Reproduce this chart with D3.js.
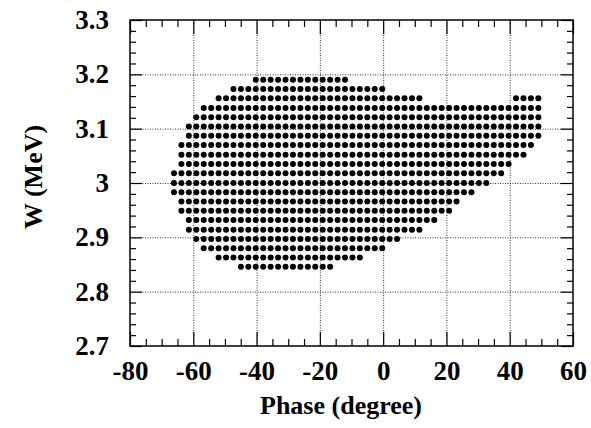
<!DOCTYPE html>
<html>
<head>
<meta charset="utf-8">
<script src="https://cdn.jsdelivr.net/npm/d3@7"></script>
<style>
  body { margin: 0; background: #fff; }
  svg { display: block; }
  text { font-family: "Liberation Serif", "Times New Roman", serif; font-weight: bold; fill: #000; }
</style>
</head>
<body>
<svg id="chart" width="591" height="428"></svg>
<script>
// Axis ticks
const phaseTicks = [-80, -60, -40, -20, 0, 20, 40, 60];
const phaseTickLabels = ["-80", "-60", "-40", "-20", "0", "20", "40", "60"];
const phaseMinorTicks = [-75, -70, -65, -55, -50, -45, -35, -30, -25, -15, -10, -5,
                         5, 10, 15, 25, 30, 35, 45, 50, 55];
const wTicks = [2.7, 2.8, 2.9, 3.0, 3.1, 3.2, 3.3];
const wTickLabels = ["2.7", "2.8", "2.9", "3", "3.1", "3.2", "3.3"];
const wMinorTicks = [2.72, 2.74, 2.76, 2.78, 2.82, 2.84, 2.86, 2.88, 2.92, 2.94, 2.96, 2.98,
                     3.02, 3.04, 3.06, 3.08, 3.12, 3.14, 3.16, 3.18, 3.22, 3.24, 3.26, 3.28];

// Scan grid: phase columns (degree) and energy rows (MeV)
const phaseColumns = [-66.1, -63.75, -61.4, -59.05, -56.7, -54.35, -52.0, -49.65, -47.3, -44.95,
                      -42.6, -40.25, -37.9, -35.55, -33.2, -30.85, -28.5, -26.15, -23.8, -21.45,
                      -19.1, -16.75, -14.4, -12.05, -9.7, -7.35, -5.0, -2.65, -0.3, 2.05,
                      4.4, 6.75, 9.1, 11.45, 13.8, 16.15, 18.5, 20.85, 23.2, 25.55,
                      27.9, 30.25, 32.6, 34.95, 37.3, 39.65, 42.0, 44.35, 46.7, 49.05];
const wLevels = [3.190, 3.173, 3.156, 3.138, 3.121, 3.104, 3.087, 3.070, 3.052, 3.035, 3.018,
                 3.000, 2.983, 2.966, 2.949, 2.932, 2.914, 2.897, 2.880, 2.863, 2.846];
// Accepted column ranges [first, last] on each energy row
const rowSpans = [
  [[11, 23]],
  [[8, 28]],
  [[6, 33], [46, 49]],
  [[4, 49]],
  [[3, 49]],
  [[2, 49]],
  [[2, 49]],
  [[1, 48]],
  [[1, 47]],
  [[1, 45]],
  [[0, 44]],
  [[0, 42]],
  [[0, 40]],
  [[1, 38]],
  [[1, 37]],
  [[2, 35]],
  [[2, 33]],
  [[3, 30]],
  [[4, 28]],
  [[6, 25]],
  [[9, 21]]
];

const svg = d3.select("#chart");
const W = 591, H = 428;
const margin = { left: 130, right: 18, top: 20, bottom: 82 };
const width = W - margin.left - margin.right;
const height = H - margin.top - margin.bottom;

const x = d3.scaleLinear().domain([-80, 60]).range([0, width]);
const y = d3.scaleLinear().domain([2.7, 3.3]).range([height, 0]);

const g = svg.append("g").attr("transform", `translate(${margin.left},${margin.top})`);

// Dotted grid
const gridX = g.append("g").attr("transform", `translate(0,${height})`)
  .call(d3.axisBottom(x).tickValues(phaseTicks.slice(1, -1)).tickSize(-height).tickFormat(""));
const gridY = g.append("g")
  .call(d3.axisLeft(y).tickValues(wTicks.slice(1, -1)).tickSize(-width).tickFormat(""));
[gridX, gridY].forEach(s => {
  s.select(".domain").remove();
  s.selectAll("line").attr("stroke", "#333").attr("stroke-width", 1).attr("stroke-dasharray", "1,1.5");
});

// Scan points
const points = [];
rowSpans.forEach((spans, r) => {
  spans.forEach(([a, b]) => {
    for (let k = a; k <= b; k++) points.push({ phase: phaseColumns[k], w: wLevels[r] });
  });
});
g.append("g").selectAll("circle").data(points).join("circle")
  .attr("cx", d => x(d.phase))
  .attr("cy", d => y(d.w))
  .attr("r", 3)
  .attr("fill", "#000");

// Ticks on all four sides (pointing inward)
function styleAxis(s) {
  s.select(".domain").remove();
  s.selectAll("line").attr("stroke", "#000").attr("stroke-width", 1.2);
  s.selectAll("text").attr("font-size", 27)
    .attr("font-family", "'Liberation Serif', 'Times New Roman', serif")
    .attr("font-weight", "bold").attr("fill", "#000");
}
const axisBottomG = g.append("g").attr("transform", `translate(0,${height})`);
axisBottomG.append("g").call(d3.axisBottom(x).tickValues(phaseTicks).tickSize(-14).tickSizeOuter(0)
  .tickPadding(15).tickFormat((d, i) => phaseTickLabels[i])).call(styleAxis);
axisBottomG.append("g").call(d3.axisBottom(x).tickValues(phaseMinorTicks).tickSize(-7).tickFormat("")).call(styleAxis);

const axisTopG = g.append("g");
axisTopG.append("g").call(d3.axisTop(x).tickValues(phaseTicks).tickSize(-14).tickFormat("")).call(styleAxis);
axisTopG.append("g").call(d3.axisTop(x).tickValues(phaseMinorTicks).tickSize(-7).tickFormat("")).call(styleAxis);

const axisLeftG = g.append("g");
axisLeftG.append("g").call(d3.axisLeft(y).tickValues(wTicks).tickSize(-12).tickSizeOuter(0)
  .tickPadding(21).tickFormat((d, i) => wTickLabels[i])).call(styleAxis);
axisLeftG.append("g").call(d3.axisLeft(y).tickValues(wMinorTicks).tickSize(-6).tickFormat("")).call(styleAxis);

const axisRightG = g.append("g").attr("transform", `translate(${width},0)`);
axisRightG.append("g").call(d3.axisRight(y).tickValues(wTicks).tickSize(-12).tickFormat("")).call(styleAxis);
axisRightG.append("g").call(d3.axisRight(y).tickValues(wMinorTicks).tickSize(-6).tickFormat("")).call(styleAxis);

// Frame
g.append("rect").attr("x", 0).attr("y", 0).attr("width", width).attr("height", height)
  .attr("fill", "none").attr("stroke", "#000").attr("stroke-width", 1.5);

// Axis titles
svg.append("text").attr("x", 341).attr("y", 414).attr("text-anchor", "middle")
  .attr("font-size", 26).text("Phase (degree)");
svg.append("text").attr("transform", "translate(42,177) rotate(-90)").attr("text-anchor", "middle")
  .attr("font-size", 26).text("W (MeV)");
</script>
</body>
</html>
